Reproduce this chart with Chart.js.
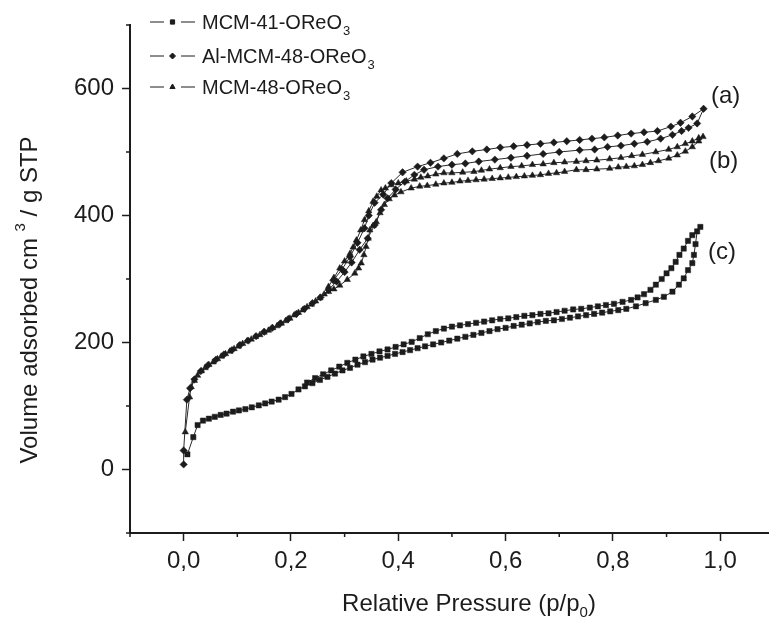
<!DOCTYPE html>
<html>
<head>
<meta charset="utf-8">
<script src="https://cdn.jsdelivr.net/npm/chart.js@4.4.1/dist/chart.umd.min.js"></script>
<style>
  body { margin: 0; background: #fff; }
  #wrap { width: 773px; height: 622px; }
</style>
</head>
<body>
<div id="wrap"><canvas id="isoCanvas" width="773" height="622"></canvas></div>
<script>
// tick labels
const xTicks = [0, 0.2, 0.4, 0.6, 0.8, 1.0];
const xMinorTicks = [-0.1, 0.1, 0.3, 0.5, 0.7, 0.9];
const yTicks = [0, 200, 400, 600];
const yMinorTicks = [-100, 100, 300, 500, 700];

const seriesNames = ["MCM-41-OReO", "Al-MCM-48-OReO", "MCM-48-OReO"];
const curveLabels = ["(a)", "(b)", "(c)"];

// MCM-41-OReO3 (carrés) : adsorption puis désorption
const mcm41P = [
  0.007, 0.018, 0.026, 0.036, 0.047, 0.058, 0.069, 0.080, 0.092, 0.103, 0.115, 0.127,
  0.140, 0.152, 0.164, 0.177, 0.189, 0.201, 0.214, 0.226, 0.240, 0.254, 0.268, 0.282,
  0.296, 0.310, 0.324, 0.338, 0.352, 0.366, 0.380, 0.394, 0.408, 0.422, 0.436, 0.450,
  0.465, 0.480, 0.495, 0.510, 0.525, 0.540, 0.555, 0.570, 0.585, 0.600, 0.615, 0.630,
  0.645, 0.660, 0.675, 0.690, 0.705, 0.720, 0.735, 0.750, 0.765, 0.780, 0.795, 0.810,
  0.825, 0.843, 0.861, 0.880, 0.895, 0.911, 0.923, 0.932, 0.940, 0.948, 0.951, 0.954,
  0.957, 0.963,
  0.948, 0.940, 0.932, 0.924, 0.917, 0.909, 0.900, 0.891, 0.880, 0.870, 0.858, 0.846,
  0.834, 0.818, 0.802, 0.787, 0.772, 0.757, 0.741, 0.726, 0.710, 0.695, 0.680, 0.665,
  0.650, 0.635, 0.620, 0.605, 0.590, 0.575, 0.560, 0.545, 0.530, 0.515, 0.500, 0.485,
  0.470, 0.455, 0.440, 0.425, 0.410, 0.395, 0.380, 0.365, 0.350, 0.335, 0.320, 0.305,
  0.290, 0.275, 0.260, 0.245, 0.230
];
const mcm41V = [
  24, 51, 70, 77, 80, 83, 86, 88, 91, 93, 95, 98,
  101, 104, 107, 110, 114, 119, 126, 131, 136, 141, 146, 151,
  156, 160, 165, 169, 173, 176, 179, 182, 185, 188, 191, 194,
  197, 200, 203, 206, 209, 212, 215, 218, 221, 223, 226, 228,
  230, 232, 234, 235, 237, 239, 241, 243, 245, 247, 249, 251,
  253, 257, 262, 267, 272, 280, 291, 301, 314, 325, 338, 355,
  375, 382,
  369, 360, 348, 338, 327, 317, 309, 300, 291, 283, 276, 271,
  267, 264, 261, 259, 257, 255, 253, 252, 250, 248, 246, 245,
  243, 242, 240, 238, 237, 235, 233, 231, 229, 227, 225, 222,
  218, 213, 207, 201, 197, 193, 189, 186, 182, 178, 173, 168,
  162, 156, 150, 144, 137
];

// Al-MCM-48-OReO3 (losanges)
const alMcm48P = [
  0.000, 0.000, 0.006, 0.012, 0.020, 0.032, 0.045, 0.060, 0.075, 0.090, 0.105, 0.120,
  0.135, 0.150, 0.165, 0.180, 0.195, 0.210, 0.225, 0.240, 0.255, 0.270, 0.285, 0.300,
  0.313, 0.328, 0.343, 0.356, 0.368, 0.380, 0.395, 0.412, 0.430, 0.448, 0.474, 0.500,
  0.525, 0.550, 0.580, 0.610, 0.640, 0.670, 0.700, 0.738, 0.766, 0.790, 0.815, 0.840,
  0.864, 0.889, 0.911, 0.928, 0.941, 0.957, 0.969,
  0.948, 0.926, 0.908, 0.883, 0.858, 0.834, 0.809, 0.784, 0.761, 0.738, 0.714, 0.690,
  0.665, 0.640, 0.615, 0.590, 0.565, 0.538, 0.510, 0.485, 0.460, 0.436, 0.408, 0.387,
  0.372, 0.356, 0.345, 0.337, 0.324, 0.310, 0.295, 0.279
];
const alMcm48V = [
  8, 30, 110, 128, 142, 155, 164, 173, 181, 188, 196, 203,
  210, 217, 223, 230, 237, 245, 253, 262, 271, 283, 296, 311,
  326, 346, 364, 385, 409, 427, 441, 453, 464, 472, 477, 480,
  482, 485, 488, 491, 494, 497, 500, 503, 504, 508, 510, 513,
  516, 521, 527, 533, 538, 545, 568,
  556, 546, 540, 533, 531, 529, 526, 523, 521, 519, 517, 515,
  513, 511, 509, 507, 504, 501, 497, 490, 483, 477, 468, 451,
  433, 420, 400, 380, 357, 335, 315, 298
];

// MCM-48-OReO3 (triangles)
const mcm48P = [
  0.003, 0.011, 0.014, 0.020, 0.026, 0.033, 0.040, 0.047, 0.055, 0.063, 0.070, 0.078,
  0.086, 0.094, 0.102, 0.110, 0.118, 0.126, 0.134, 0.142, 0.150, 0.158, 0.166, 0.174,
  0.182, 0.190, 0.198, 0.206, 0.214, 0.222, 0.230, 0.238, 0.246, 0.254, 0.262, 0.270,
  0.280, 0.291, 0.305, 0.319, 0.326, 0.331, 0.336, 0.340, 0.344, 0.347, 0.353, 0.359,
  0.366, 0.374, 0.383, 0.393, 0.405, 0.424, 0.440, 0.454, 0.470, 0.485, 0.500, 0.515,
  0.530, 0.545, 0.560, 0.575, 0.590, 0.605, 0.620, 0.635, 0.650, 0.665, 0.680, 0.695,
  0.710, 0.732, 0.750, 0.770, 0.794, 0.810, 0.825, 0.840, 0.855, 0.870, 0.885, 0.904,
  0.920, 0.935, 0.948, 0.960, 0.968,
  0.960, 0.948, 0.935, 0.920, 0.904, 0.880, 0.855, 0.835, 0.815, 0.794, 0.770, 0.750,
  0.732, 0.710, 0.690, 0.670, 0.650, 0.630, 0.610, 0.590, 0.570, 0.555, 0.541, 0.520,
  0.500, 0.485, 0.470, 0.455, 0.442, 0.430, 0.415, 0.400, 0.387, 0.376, 0.368, 0.360,
  0.353, 0.345, 0.337, 0.330, 0.322, 0.316, 0.310, 0.300, 0.291, 0.280, 0.270
];
const mcm48V = [
  59, 114, 130, 140, 148, 155, 160, 165, 169, 174, 178, 182,
  186, 190, 194, 198, 202, 205, 209, 212, 216, 219, 223, 226,
  230, 234, 238, 243, 247, 251, 256, 260, 265, 270, 276, 280,
  284, 290, 299, 309, 317, 325, 338, 351, 364, 377, 384, 390,
  404, 417, 426, 432, 437, 443, 446, 447, 449, 451, 452, 454,
  455, 456, 457, 458, 459, 460, 461, 462, 463, 464, 466, 467,
  469, 472, 472, 473, 474, 476, 477, 478, 480, 483, 486, 490,
  495, 501, 508, 517, 524,
  522, 517, 513, 508, 504, 500, 496, 494, 491, 489, 487, 486,
  485, 484, 483, 481, 480, 478, 477, 475, 473, 471, 469, 468,
  467, 467, 465, 462, 460, 457, 454, 451, 448, 443, 440, 430,
  422, 407, 393, 377, 361, 350, 340, 328, 317, 302, 288
];

const ink = "#1c1c1c";
const lineInk = "#2a2a2a";
const fontFamily = "'Liberation Sans', Arial, Helvetica, sans-serif";
const markerStyles = ["rect", "rectRot", "triangle"];

const toPoints = (ps, vs) => ps.map((p, i) => ({ x: p, y: vs[i] }));

const makeDataset = (label, ps, vs, style, radius) => ({
  label: label,
  data: toPoints(ps, vs),
  showLine: true,
  tension: 0,
  fill: false,
  borderColor: lineInk,
  borderWidth: 1,
  pointStyle: style,
  pointRadius: radius,
  pointBackgroundColor: ink,
  pointBorderColor: ink,
  pointBorderWidth: 0.5,
});

// petits traits secondaires, titres d'axes, légende, repères (a)(b)(c)
const decorPlugin = {
  id: "decor",
  afterDraw(chart) {
    const ctx = chart.ctx;
    const xs = chart.scales.x;
    const ys = chart.scales.y;
    const area = chart.chartArea;
    ctx.save();
    ctx.strokeStyle = ink;
    ctx.fillStyle = ink;
    ctx.lineWidth = 1.5;

    xMinorTicks.forEach((v) => {
      const px = xs.getPixelForValue(v);
      ctx.beginPath();
      ctx.moveTo(px, area.bottom);
      ctx.lineTo(px, area.bottom + 4);
      ctx.stroke();
    });
    yMinorTicks.forEach((v) => {
      const py = ys.getPixelForValue(v);
      ctx.beginPath();
      ctx.moveTo(area.left, py);
      ctx.lineTo(area.left - 4, py);
      ctx.stroke();
    });

    // titre axe X
    ctx.textBaseline = "alphabetic";
    ctx.textAlign = "left";
    ctx.font = "24px " + fontFamily;
    const xt1 = "Relative Pressure (p/p";
    const w1 = ctx.measureText(xt1).width;
    ctx.font = "15px " + fontFamily;
    const wsub = ctx.measureText("0").width;
    ctx.font = "24px " + fontFamily;
    const wpar = ctx.measureText(")").width;
    let x0 = 469 - (w1 + wsub + wpar) / 2;
    const xb = 611;
    ctx.fillText(xt1, x0, xb);
    ctx.font = "15px " + fontFamily;
    ctx.fillText("0", x0 + w1, xb + 6);
    ctx.font = "24px " + fontFamily;
    ctx.fillText(")", x0 + w1 + wsub, xb);

    // titre axe Y
    ctx.save();
    ctx.translate(37, 300);
    ctx.rotate(-Math.PI / 2);
    const yt1 = "Volume adsorbed cm ";
    const yt2 = " / g STP";
    ctx.font = "24px " + fontFamily;
    const a1 = ctx.measureText(yt1).width;
    const a2 = ctx.measureText(yt2).width;
    ctx.font = "15px " + fontFamily;
    const a3 = ctx.measureText("3").width;
    let s = -(a1 + a2 + a3) / 2;
    ctx.font = "24px " + fontFamily;
    ctx.fillText(yt1, s, 0);
    ctx.font = "15px " + fontFamily;
    ctx.fillText("3", s + a1, -12);
    ctx.font = "24px " + fontFamily;
    ctx.fillText(yt2, s + a1 + a3, 0);
    ctx.restore();

    // légende
    const rowY = [22, 56, 87];
    seriesNames.forEach((name, i) => {
      const cy = rowY[i];
      ctx.lineWidth = 1;
      ctx.beginPath();
      ctx.moveTo(150, cy);
      ctx.lineTo(164, cy);
      ctx.moveTo(181, cy);
      ctx.lineTo(195, cy);
      ctx.stroke();
      Chart.helpers.drawPoint(ctx, { pointStyle: markerStyles[i], radius: 3, rotation: 0, borderWidth: 0.5 }, 172.5, cy);
      ctx.font = "20px " + fontFamily;
      ctx.fillText(name, 202, cy + 7);
      const wn = ctx.measureText(name).width;
      ctx.font = "13px " + fontFamily;
      ctx.fillText("3", 202 + wn + 1, cy + 13);
    });

    // repères des courbes
    ctx.font = "24px " + fontFamily;
    ctx.textBaseline = "middle";
    const labelPos = [[711, 96], [709, 161], [708, 252]];
    curveLabels.forEach((t, i) => {
      ctx.fillText(t, labelPos[i][0], labelPos[i][1]);
    });
    ctx.restore();
  },
};

const isoCanvas = document.getElementById("isoCanvas");

const isoChart = new Chart(isoCanvas, {
  type: "line",
  data: {
    datasets: [
      makeDataset("MCM-41-OReO3", mcm41P, mcm41V, "rect", 3.7),
      makeDataset("Al-MCM-48-OReO3", alMcm48P, alMcm48V, "rectRot", 3.7),
      makeDataset("MCM-48-OReO3", mcm48P, mcm48V, "triangle", 3.7),
    ],
  },
  options: {
    responsive: false,
    animation: false,
    devicePixelRatio: 1,
    layout: { padding: { top: 25, right: 0, bottom: 0, left: 0 } },
    plugins: {
      legend: { display: false },
      tooltip: { enabled: false },
    },
    scales: {
      x: {
        type: "linear",
        min: -0.1,
        max: 1.09,
        afterBuildTicks: (scale) => {
          scale.ticks = xTicks.map((v) => ({ value: v }));
        },
        afterFit: (scale) => {
          scale.height = 89;
        },
        ticks: {
          color: ink,
          font: { family: fontFamily, size: 24 },
          padding: 6,
          maxRotation: 0,
          callback: (v) => Number(v).toFixed(1).replace(".", ","),
        },
        grid: {
          drawOnChartArea: false,
          drawTicks: true,
          tickLength: 8,
          tickWidth: 1.5,
          tickColor: ink,
        },
        border: { display: true, color: ink, width: 2 },
      },
      y: {
        type: "linear",
        min: -100,
        max: 700,
        afterBuildTicks: (scale) => {
          scale.ticks = yTicks.map((v) => ({ value: v }));
        },
        afterFit: (scale) => {
          scale.width = 130;
        },
        ticks: {
          color: ink,
          font: { family: fontFamily, size: 24 },
          padding: 8,
        },
        grid: {
          drawOnChartArea: false,
          drawTicks: true,
          tickLength: 8,
          tickWidth: 1.5,
          tickColor: ink,
        },
        border: { display: true, color: ink, width: 2 },
      },
    },
  },
  plugins: [decorPlugin],
});
</script>
</body>
</html>
